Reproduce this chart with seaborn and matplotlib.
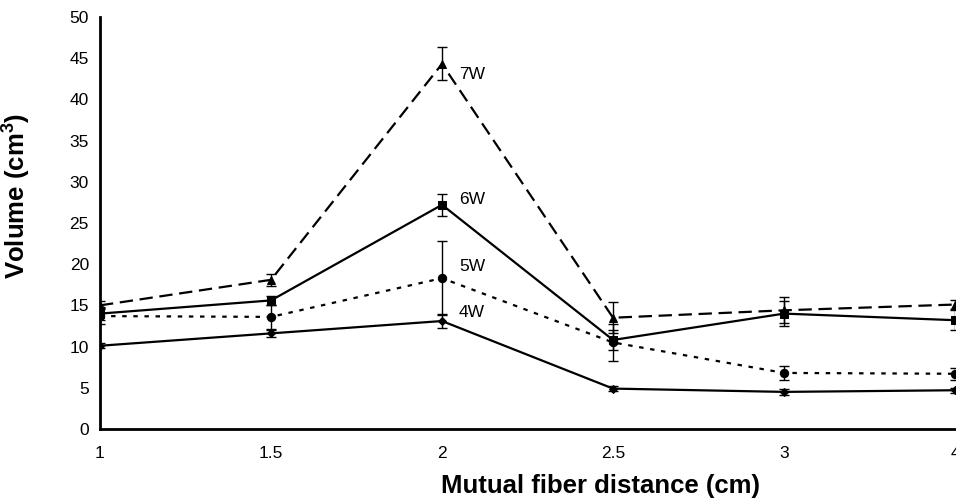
import numpy as np
import pandas as pd
import matplotlib.pyplot as plt
import seaborn as sns

distances = ['1', '1.5', '2', '2.5', '3', '4']
groups = ['7W', '6W', '5W', '4W']

vol_7w = [15.0, 18.1, 44.3, 13.5, 14.4, 15.1]
vol_6w = [14.0, 15.6, 27.2, 10.8, 14.0, 13.2]
vol_5w = [13.7, 13.6, 18.3, 10.5, 6.8, 6.7]
vol_4w = [10.1, 11.6, 13.1, 4.9, 4.5, 4.7]

err_7w = [0.5, 0.7, 2.0, 1.9, 1.6, 0.6]
err_6w = [0.8, 0.5, 1.3, 1.2, 1.5, 1.2]
err_5w = [1.0, 1.5, 4.5, 2.2, 0.9, 0.7]
err_4w = [0.3, 0.4, 0.9, 0.3, 0.4, 0.3]

label_y = [43.0, 27.8, 19.7, 14.1]

sns.set_style('white')
plt.rcParams['font.family'] = ['Liberation Sans', 'DejaVu Sans']
plt.rcParams['text.color'] = 'black'
plt.rcParams['axes.labelcolor'] = 'black'

values = {'7W': vol_7w, '6W': vol_6w, '5W': vol_5w, '4W': vol_4w}
errors = {'7W': err_7w, '6W': err_6w, '5W': err_5w, '4W': err_4w}
df = pd.DataFrame([
    {'pos': i, 'group': g, 'volume': values[g][i], 'err': errors[g][i]}
    for g in groups for i in range(len(distances))
])

fig = plt.figure(figsize=(9.56, 4.98), dpi=100)
ax = fig.add_axes([0.1046, 0.1386, 0.8944, 0.8274])

markers = {'7W': '^', '6W': 's', '5W': 'o', '4W': 'D'}
dashes = {'7W': (6, 3), '6W': '', '5W': (2, 3), '4W': ''}
sizes = {'7W': 6, '6W': 6, '5W': 6, '4W': 4}

for g in groups:
    sub = df[df['group'] == g]
    sns.lineplot(data=sub, x='pos', y='volume', ax=ax, color='black',
                 linewidth=1.6, marker=markers[g], markersize=sizes[g],
                 markeredgecolor='black', dashes=dashes[g] if dashes[g] else (None, None),
                 legend=False, errorbar=None)
    ax.errorbar(sub['pos'], sub['volume'], yerr=sub['err'], fmt='none',
                ecolor='black', elinewidth=1.0, capsize=3.5, capthick=1.0)

for g, y in zip(groups, label_y):
    ax.text(2.1, y, g, fontsize=12.5, va='center', ha='left')

ax.set_xlim(0, 5)
ax.set_ylim(0, 50)
ax.set_xticks(range(len(distances)))
ax.set_xticklabels(distances)
ax.set_yticks(np.arange(0, 51, 5))
ax.tick_params(axis='both', which='major', direction='inout', length=9, width=1.5,
               labelsize=12.5, colors='black')
ax.tick_params(axis='x', pad=8)
for side in ['top', 'right']:
    ax.spines[side].set_visible(False)
for side in ['left', 'bottom']:
    ax.spines[side].set_linewidth(2)
    ax.spines[side].set_color('black')

ax.set_xlabel('Mutual fiber distance (cm)', fontsize=18.5, fontweight='bold')
ax.set_ylabel('Volume (cm$^\\mathregular{3}$)', fontsize=18.5, fontweight='bold')
ax.xaxis.set_label_coords(0.585, -0.11)
ax.yaxis.set_label_coords(-0.08, 0.566)

fig.savefig('out.png', dpi=100)
